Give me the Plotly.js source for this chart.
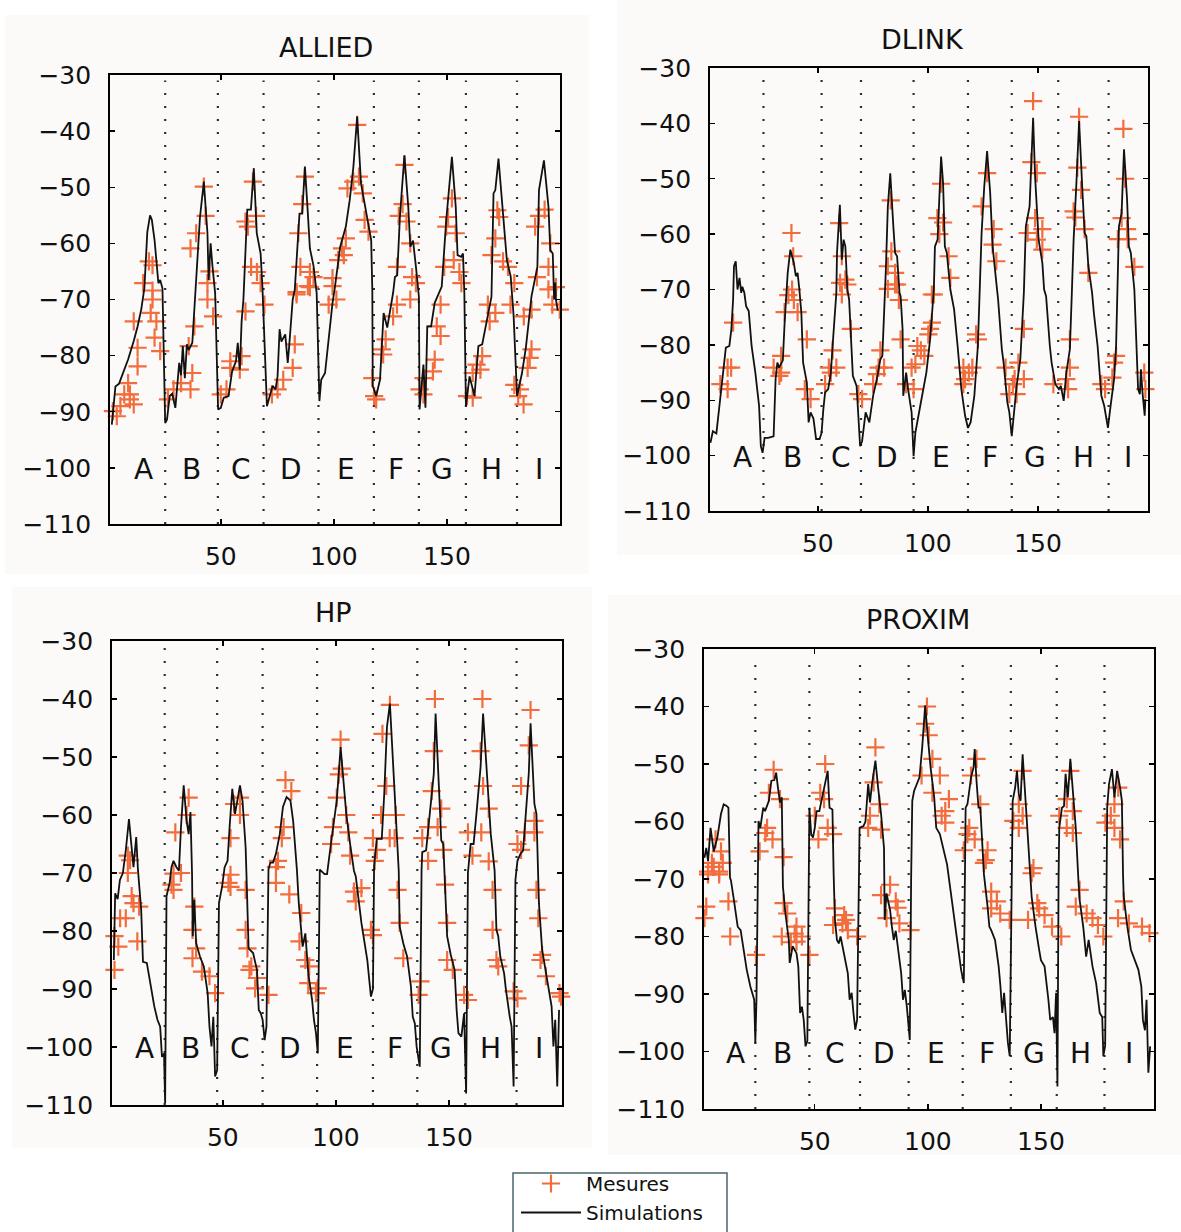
<!DOCTYPE html>
<html><head><meta charset="utf-8">
<script src="https://cdn.plot.ly/plotly-3.0.1.min.js"></script>
<style>html,body{margin:0;padding:0;background:#fff}</style>
</head><body><div id="chart" style="width:1181px;height:1232px"></div>
<script>
// ---------------- DATA ----------------
const segLetters = ['A','B','C','D','E','F','G','H','I'];
const xTicks = [50, 100, 150];
const yTicks = [-110, -100, -90, -80, -70, -60, -50, -40, -30];

// segment boundaries (dotted lines), x units
const alliedBounds = [25.4, 48.7, 68.9, 93.2, 117.7, 137.6, 158.4, 181];
const dlinkBounds  = [25.3, 51.7, 69.6, 93.5, 118.2, 138.1, 159.2, 182.1];
const hpBounds     = [24.3, 47.5, 67.6, 91.7, 116.4, 136, 157.2, 179.9];
const proximBounds = [23.7, 47.6, 70, 91.5, 115.4, 136.7, 157, 178.1];

// Simulations [x, dB]
const alliedSim = [[1.8,-92.3],[3.4,-85.5],[5,-85],[9,-80.7],[11.5,-77.4],[13.2,-74.8],[14.8,-71.8],[16.2,-68],[17.5,-58],[18.7,-55],[19.5,-55.8],[20.7,-59.4],[22.4,-67.1],[23.2,-66.5],[24.2,-68],[25.4,-92],[26.2,-91.4],[27.4,-87.2],[28.5,-86.8],[29.9,-89.3],[31.6,-81.3],[32.4,-83.5],[33.2,-78.3],[34.1,-84],[35,-78],[35.8,-79],[37.4,-77.7],[38.3,-71.2],[39.1,-66.4],[40,-60.6],[40.8,-55.3],[42.5,-49],[44.1,-58.2],[44.6,-66.5],[45.5,-60],[46.3,-64],[47.5,-68.9],[48.8,-89.6],[50,-89.3],[51.3,-87.5],[53.4,-87.2],[55,-82.8],[56.7,-81],[57.5,-77.7],[58.4,-82.5],[59.2,-73.9],[60,-70],[61.7,-54],[63.3,-54],[64.6,-46.6],[65.9,-58.2],[67.6,-61.8],[68.4,-67.7],[70.4,-89],[71.8,-87.2],[72.9,-85.4],[74.2,-86],[75.1,-83.7],[76,-75.3],[76.8,-77.5],[78.5,-76.2],[79.6,-81.3],[80.2,-78.5],[81.8,-70],[82.7,-68.3],[84.8,-54.7],[86,-54.7],[87.2,-46.3],[88.5,-54.7],[89.4,-60.9],[91,-64],[92.4,-68.9],[93.6,-88.1],[94.4,-84.3],[96.1,-83.1],[97.7,-76.5],[99.4,-70.6],[100.3,-68.3],[102.8,-60.6],[105.3,-57],[107,-52.3],[108.6,-46.5],[110.3,-37.4],[112,-49.3],[113.6,-53],[115.3,-57],[116.5,-59.4],[117,-68.3],[117.2,-85.4],[118.7,-87.2],[120.4,-84.3],[122,-72.4],[123.6,-75],[126.2,-68.8],[127,-66],[128,-65.7],[129.2,-55.3],[131.2,-44.3],[132.9,-53.5],[133.8,-60.6],[135,-59.5],[136.3,-64.2],[137.6,-69.5],[137.9,-89.6],[139.6,-81.6],[140.5,-89.3],[141.3,-74.8],[143,-74.8],[144.6,-70.6],[147.7,-67.7],[149.7,-55.8],[152.2,-44.6],[153.9,-53.5],[154.7,-62.1],[156.3,-62.4],[157.1,-61.8],[157.7,-68.9],[158.4,-89],[160,-83.7],[162.2,-87.2],[163.9,-78.3],[165.6,-78],[168.1,-72.4],[169.7,-69.5],[170.6,-51.1],[171.4,-50.5],[172.8,-44.9],[174.8,-54.7],[176.5,-63],[178.2,-65.9],[179,-70],[179.5,-73],[181,-87.2],[183.2,-83.1],[184.9,-78.6],[187.4,-69.4],[190,-64.2],[190.7,-50.5],[192.9,-45.2],[194.9,-53.5],[195.7,-61.2],[196.8,-61.8],[197.4,-70],[197.9,-67],[198.2,-70],[199,-72]];

const dlinkSim = [[1.2,-97.7],[2.3,-95.6],[3.9,-96],[5.2,-91.6],[6.5,-86.2],[8.2,-80.5],[9.8,-80.2],[10.7,-77.2],[11.5,-71.8],[11.9,-65.8],[12.7,-64.9],[13.5,-70],[14.4,-67.9],[15.2,-70.6],[15.7,-69.5],[16.6,-70.6],[17.4,-73],[18.6,-73.9],[19.9,-80.2],[21.6,-85],[23.3,-91],[24.1,-98.3],[24.9,-99.5],[25.8,-96.8],[27.4,-96.8],[29.9,-96.5],[30.8,-86.2],[31.6,-83.2],[32.4,-84.1],[34.1,-82.8],[34.9,-76],[35.8,-69.4],[36.3,-67],[37.5,-62.8],[39.1,-65.2],[40,-67.6],[40.8,-67],[41.6,-70],[42.5,-74.2],[43.3,-83.2],[45,-86.8],[45.8,-94],[46.7,-92.2],[48,-93.3],[49.2,-97],[50.8,-97],[51.7,-95.9],[52.5,-91.6],[53.3,-88.6],[54.7,-88],[55.9,-85],[56.7,-80.2],[57.5,-75.4],[58.4,-70.6],[58.7,-63.4],[60,-54.7],[60.9,-64.6],[61.7,-61],[62.5,-62.2],[63.4,-70],[64.2,-71.8],[65.9,-85.6],[67.6,-87.4],[69.2,-98.3],[70.1,-97.4],[71.7,-92.2],[73.4,-94],[75.1,-89.2],[76.8,-86.2],[78.4,-82.6],[79.3,-82],[80.1,-75.4],[80.9,-66.4],[81.8,-55],[82.9,-49],[84.3,-58.6],[85.1,-63.4],[86,-64],[87.1,-70.6],[87.6,-71.2],[88.5,-77.2],[88.8,-89.2],[90.1,-85],[91,-88],[92.6,-92.2],[93.5,-100.1],[94.3,-95.9],[96.8,-90.4],[99.3,-85],[101,-79],[102.7,-70],[103.2,-62.2],[104.4,-61],[106,-46],[106.9,-50.8],[107.7,-62.2],[108.6,-63.4],[110.2,-70],[111.9,-73.6],[113.5,-80.2],[115.2,-88],[116.9,-92.8],[118.2,-95],[119.4,-94],[121.1,-89.2],[122.7,-80.2],[123.6,-70.6],[124.4,-59.8],[125.6,-51.4],[126.9,-45],[128.3,-52.6],[129.4,-62.2],[131.1,-68.8],[131.9,-71.8],[133.6,-80.8],[134.4,-83.2],[136.1,-90.4],[137,-92.2],[138.1,-96.5],[139.5,-91],[140.3,-87.4],[142,-82.6],[143.6,-70.6],[144.5,-58.6],[146.2,-55],[147.8,-39],[148.7,-49.6],[150.3,-61],[152,-65.2],[152.8,-70],[153.7,-71.2],[155.4,-80.2],[156.2,-83.2],[157.9,-87.1],[159.5,-88],[160.4,-87.4],[161.7,-90.1],[162.9,-85],[164.5,-80.8],[165.4,-70.6],[166.2,-61],[167.4,-51.4],[168.7,-39.6],[170.1,-51.4],[171.2,-59.8],[172,-60.4],[172.9,-65.8],[174.6,-70.6],[175.4,-74.2],[177.1,-80.2],[178,-84.4],[178.8,-89.2],[180.1,-91],[181.8,-95],[183,-91],[184.6,-86.2],[185.5,-80.2],[186.3,-69.4],[186.8,-58.6],[188,-56.2],[189.1,-44.7],[190.5,-53.8],[191.3,-62.2],[192.2,-63.4],[193.8,-70],[194.6,-78.4],[195.5,-88],[196.3,-88.9],[196.8,-84.4],[197.5,-88.6],[198.5,-92.8],[198.8,-89.8]];

const hpSim = [[1.8,-85],[2.4,-73.5],[3.5,-74.5],[4.5,-71.2],[5.8,-70],[7.1,-66.1],[8.5,-60.7],[9.7,-65.6],[10.5,-69],[11.7,-63.8],[12.5,-69.6],[13.9,-76.3],[14.7,-85.3],[16.4,-85.5],[18.1,-89.6],[19.7,-93],[21.1,-95.3],[22.3,-96.5],[23.1,-101.7],[24,-101.1],[24.5,-109.7],[25.1,-74],[26.5,-71.7],[27.3,-69],[28.2,-67.9],[29.5,-69],[30.6,-69.6],[31.5,-62.1],[32.7,-54.9],[34,-61],[34.9,-63.3],[35.7,-59.5],[36.4,-70.2],[36.7,-80.9],[37.4,-74.6],[38.2,-82.1],[39.9,-84.4],[41.6,-86.1],[43.3,-90.7],[44.1,-96.5],[45,-99.9],[45.8,-94.8],[46.6,-105.1],[47.5,-104],[48.3,-75.2],[49.7,-72.3],[50.8,-69],[52.1,-67.9],[53,-62.1],[54.2,-55.5],[55.4,-59.8],[57.6,-54.9],[58.7,-57.5],[60.1,-65.6],[60.6,-72],[61.4,-83],[63.4,-83.8],[65.1,-86.7],[65.9,-93.6],[66.8,-94.2],[67.6,-95.3],[68.5,-98.8],[69.3,-96.5],[70.2,-69.4],[71,-68.2],[72.2,-68.2],[73.5,-66.7],[75.2,-63.3],[76.6,-58.6],[78.2,-56.9],[79.9,-57.5],[81.1,-61],[82.8,-69.6],[83.6,-75.2],[85.3,-82.7],[86.5,-80.4],[87.8,-87.3],[89.5,-91.9],[90.3,-95.3],[91.2,-97.6],[92,-101.1],[92.9,-69.4],[95,-70.2],[96.1,-70.2],[97.9,-64.7],[99.6,-59.8],[100.4,-57.5],[102.1,-48.3],[103.4,-54],[104.6,-59.8],[106.3,-65],[108,-69.6],[108.8,-70.6],[111.3,-78.6],[113.9,-85],[115.5,-91.3],[116.4,-90],[116.9,-68.8],[118.1,-64.1],[120.3,-64.1],[121.4,-56.3],[122.6,-44.8],[123.9,-40.8],[124.8,-47.1],[126.5,-59.8],[127.8,-69.6],[128.2,-79.2],[129.8,-82.1],[131.5,-84.4],[133.2,-89.6],[134,-94.8],[134.9,-95.9],[135.7,-99.9],[137.1,-103.4],[137.9,-69.4],[138.2,-66.4],[139.9,-66.1],[141.6,-59.8],[143.3,-52.9],[144.1,-42.5],[145,-49.4],[146.1,-59.8],[146.6,-64.4],[147.5,-65],[148,-69.6],[148.3,-73.5],[149.2,-80.9],[150.8,-84.1],[152.5,-86.7],[153.4,-93.6],[154.2,-97.6],[155.5,-98.2],[156.7,-94.2],[157.6,-108],[158.4,-70],[159.6,-65],[160.9,-65],[162.3,-59.2],[164,-51.7],[165.1,-42.5],[166.3,-49.4],[167.3,-56.3],[168.5,-63.3],[170.2,-69.6],[171,-79.8],[171.8,-80.9],[172.7,-84.4],[174.4,-87.3],[175.2,-90.1],[176.9,-94.8],[177.7,-96.5],[178.6,-106.8],[179.4,-71.2],[180.3,-67.9],[181.6,-66.7],[182.8,-66.1],[184.1,-59.8],[185.3,-52.9],[186.1,-44.2],[187,-51.7],[187.8,-58.1],[188.7,-59.8],[189.4,-69.6],[189.8,-75.2],[191.2,-83.2],[192.9,-87.3],[194.5,-91.3],[195.4,-93],[196.2,-99.9],[197,-95.3],[197.9,-106.8],[198.7,-93.6]];

const proximSim = [[1.2,-66.3],[2,-64.6],[2.8,-66.9],[3.9,-61.1],[5.3,-65.2],[6.9,-62.8],[8.5,-58.7],[9.7,-57],[11,-57.3],[11.8,-57.6],[12.5,-69.8],[12.9,-70.2],[14.2,-73.6],[15.9,-78.3],[17.2,-78.9],[18.3,-81.7],[19.9,-85.8],[21.5,-88.7],[22.4,-89.8],[23.2,-91],[23.7,-98.5],[24.2,-91],[25.1,-59.9],[25.9,-61.1],[27.2,-57.6],[28,-58.2],[29.7,-56.4],[30.8,-52.9],[32.1,-52.8],[32.9,-51.5],[33.7,-54.1],[34.6,-56.7],[35.4,-55.8],[35.7,-69.6],[35.9,-71.3],[37,-76],[37.8,-78.3],[38.5,-80.6],[38.9,-84.6],[40.2,-81.7],[41.9,-82.9],[42.7,-85.2],[43.5,-93.3],[44.3,-92.2],[45.1,-94.5],[45.9,-99.1],[46.7,-98.2],[47.2,-66.7],[47.6,-57.6],[48.4,-62.2],[49.2,-62.8],[50,-61.1],[50.8,-58.2],[52,-58.2],[53.3,-55.8],[54.6,-53.2],[55.7,-51.2],[56.5,-57.6],[57.8,-57.9],[58.3,-68.7],[58.9,-77.1],[59.8,-80.6],[60.6,-81.2],[61.4,-80],[63,-82.9],[64.6,-86.4],[65.4,-91],[66.3,-89.8],[67.1,-93.3],[67.9,-96.2],[68.7,-94.5],[69.5,-66.7],[69.8,-61.1],[71.5,-60.8],[72.4,-60],[73.6,-53.5],[74.4,-56.7],[75.2,-53.8],[76.8,-49.4],[78,-54.1],[79.3,-58.7],[80.6,-64.6],[80.9,-77.1],[81.7,-72.5],[82.5,-74],[83.3,-75.4],[84.1,-78.3],[84.9,-80.6],[85.8,-79],[86.6,-81.7],[88.2,-86.4],[89,-91],[89.8,-89.3],[90.7,-92.2],[92,-98],[92.6,-69.8],[93.1,-56.4],[93.9,-54.7],[95.2,-53.5],[96.3,-52.3],[97.5,-47.1],[98.8,-39.8],[100.1,-45.9],[101.2,-50.6],[102.8,-55.8],[103.7,-61.1],[105.3,-62.2],[106.9,-64.6],[108.5,-67.5],[110.2,-72.5],[111.8,-77.1],[113.4,-81.7],[114.7,-85.8],[115.9,-88.1],[116.3,-70],[116.7,-57.6],[117.5,-57],[119.1,-52.3],[120.2,-50.6],[120.7,-47.4],[121.5,-52.9],[122.4,-57.6],[123.2,-57.6],[124,-63.4],[124.8,-69.2],[126.4,-74.8],[127.2,-78.3],[128,-78.9],[129.7,-80.6],[130.5,-82.9],[131.3,-85.2],[132.1,-88.7],[132.9,-93.3],[133.7,-89.8],[134.6,-94.5],[135.4,-98.5],[136.2,-100.8],[136.9,-70],[137.5,-56.4],[138.6,-54.1],[139.4,-51.2],[140.2,-55.2],[141,-56.4],[141.9,-48.3],[142.7,-52.9],[143.5,-58.7],[145.1,-67.5],[145.9,-73.1],[147.6,-78.3],[148.4,-80.6],[149.2,-82.3],[150,-84.1],[151.6,-85.2],[153.3,-91],[154.1,-94.5],[155.3,-94],[156,-96.8],[156.7,-89.8],[157.3,-106.1],[157.8,-70],[158.1,-61.1],[159.3,-57.6],[160.2,-57.3],[160.9,-51.7],[161.9,-55.8],[163,-49.1],[164.1,-54.1],[165.4,-61.1],[166.6,-70.4],[167.1,-73.6],[168.7,-78.3],[170,-83.5],[171.1,-80.6],[172.8,-85.2],[174.4,-88.1],[176,-93.3],[177.1,-94],[177.6,-100.8],[178.4,-99],[178.9,-70],[179.3,-57.6],[180.1,-53.5],[181.4,-50.9],[182.5,-55.8],[183.7,-51.2],[185,-54.1],[185.8,-56.4],[186.3,-69.2],[186.6,-73],[188.2,-78.3],[189.8,-82.3],[193.1,-85.8],[194.4,-88.7],[195.1,-94.5],[196,-96.3],[196.7,-91],[197.5,-103.7],[198.3,-99.1]];

// Mesures [x, dB]
const alliedMes = [[18.2,-63.2],[19.8,-63.9],[15.7,-67.1],[19.8,-68.4],[19.8,-70],[11.5,-73.9],[21.5,-73.9],[19,-72.4],[20.7,-76.8],[13.2,-78.6],[23.2,-79.2],[13.2,-81.9],[9,-84.9],[7.3,-86.9],[9.8,-87.8],[5.6,-89],[2.3,-89.9],[4,-90.8],[11.5,-88.7],[9.8,-86.9],
[42.5,-49.9],[43.3,-55.1],[39.1,-58.2],[36.6,-60.9],[45,-65],[44.1,-67.1],[44.1,-70],[46.6,-73],[38.3,-74.8],[35.8,-78.3],[37.4,-83.1],[32.4,-84.9],[36.6,-86],[29.1,-86],[26.6,-87.8],
[64.2,-49],[65.6,-55.1],[60.9,-56.1],[62,-57],[63.4,-64.2],[66,-65.1],[67.6,-67.1],[69.3,-70.9],[60.9,-72.1],[59.2,-80.1],[54.2,-81],[54.2,-82.2],[58.4,-82.5],[52.5,-86],[50,-86.9],
[87.2,-48.1],[86,-53],[84.3,-58.2],[85.2,-64.2],[89.4,-65.1],[91,-66],[83.5,-68.7],[89.4,-67.8],[88.5,-67.6],[83.5,-69.1],[82.7,-78],[81.8,-82.2],[77.6,-84.3],[75.1,-86],[72.6,-86.9],
[110.3,-38.9],[111.1,-48.1],[108.6,-49],[106,-50.2],[112.8,-51.1],[113.6,-55.8],[115.3,-57.9],[105.3,-59.1],[103.6,-60.9],[104.4,-62.1],[101.9,-63],[99.4,-66.2],[99.4,-67.6],[101.1,-70],[97.7,-70.9],
[131.2,-46],[130.4,-53],[128.7,-55.1],[132.1,-56.1],[133.8,-60],[127.9,-64.2],[134.6,-66],[136.3,-67.1],[133.8,-70],[127.9,-70.9],[126.2,-73],[122.9,-77.1],[121.2,-78.9],[121.8,-79.8],[117,-84],[117.8,-87.2],[118.7,-87.8],
[152.2,-52],[150.5,-55.3],[149.7,-57],[153.9,-58.2],[153,-63],[148.8,-64.2],[155.5,-65.1],[156.4,-67.1],[147.2,-70.9],[145.5,-74.8],[147.2,-76.5],[144.6,-80.7],[143.8,-82.8],[139.6,-84],[137.9,-86],[139.6,-86.9],
[172.3,-54.1],[173.1,-55.3],[171.4,-59.1],[169.7,-62.1],[174.8,-63.2],[177,-64.2],[179.8,-67.1],[168.1,-70.9],[178.1,-70.9],[171.4,-72.4],[168.9,-73.9],[165.6,-80.1],[163.1,-81.6],[164.8,-82.5],[161.4,-83.1],[158.9,-87.2],[161.4,-87.5],
[193.2,-54],[190.7,-55.1],[189,-57],[195.7,-60],[194.9,-64.2],[189.8,-66],[198.2,-67.8],[194.9,-68.2],[196.6,-70.9],[199.9,-71.8],[187.4,-71.8],[184,-73],[187.4,-78.9],[186.6,-80.4],[185.7,-82.2],[179.8,-85.2],[182.3,-86],[181.5,-87.2],[183.9,-88.7]];

const dlinkMes = [[38,-59.8],[38.8,-64],[59.7,-58],[60.9,-64],[62.5,-68.2],[63.4,-69.1],[83.1,-53.9],[83.4,-63.1],[81.8,-65.8],[85.1,-67],[86,-69.1],[106,-50.9],[104.3,-57.1],[106.9,-57.9],[105.2,-60],[109.4,-64],[110.2,-67.9],[101.8,-70.9],[126.9,-49],[124.4,-55],[129.9,-59.1],[129.4,-61.9],[131.1,-64.9],[147.8,-36],[147,-47],[149.5,-49],[148.7,-57.1],[145.3,-59.8],[152,-59.1],[149.5,-61],[152,-62.8],[168.7,-38.8],[167.9,-48],[169.6,-52],[166.2,-55.9],[167,-57],[171.2,-59.1],[172.9,-67],[188.8,-41],[189.6,-50],[188,-57.1],[190.5,-59.1],[186.3,-60.9],[190.8,-60.9],[193.8,-65.9],
[11.5,-76],[9,-84.1],[10.6,-84.1],[5.7,-87.1],[9,-88],[38.3,-70],[36.6,-71],[39.1,-71.9],[34.9,-74.1],[40.8,-74.1],[45,-79],[33.3,-82],[29.9,-84.1],[33.3,-85],[32.5,-85.6],[44.1,-88],[46.7,-89.8],[60.9,-70.9],[60.1,-68.8],[65,-77.1],[56.7,-81],[55,-84.1],[58.4,-84.1],[55.9,-85],[53.3,-87.1],[68.4,-88.9],[70.1,-89.8],[81.8,-69.9],[85.1,-69.1],[86.8,-71.9],[78.4,-81],[77.6,-84.1],[80.1,-84.1],[76.8,-85.3],[75.1,-87.1],[87.6,-79],[102.7,-70.9],[101.8,-76],[101,-77.1],[100.2,-78.1],[95.2,-80.2],[96.8,-81],[98.4,-82],[94.3,-83.5],[92.6,-84.1],[90.1,-87.1],[93.5,-88],[121.9,-78.1],[122.7,-79],[116.1,-84.1],[120.2,-84.1],[118.6,-85],[116.9,-86.2],[116.1,-87.1],[143.6,-77.1],[141.1,-83.2],[135.3,-84.1],[143.6,-86.2],[139.4,-86.2],[138.6,-87.1],[137,-88.9],[140.3,-88.9],[164.5,-79],[164.5,-84.1],[162.9,-86.2],[157,-87.1],[163.7,-88],[185.5,-82],[184.6,-83.2],[183.8,-85.9],[178.8,-87.1],[180.5,-88],[198.3,-85],[198.8,-88]];

const hpMes = [[8,-67],[9,-67.8],[34.9,-57],[34,-60],[29,-63],[28.2,-70.1],[57.6,-57],[55,-58.1],[57.6,-60],[53.4,-64],[77.7,-54],[80.3,-55.9],[76.9,-62.1],[76.1,-64],[74.4,-67.9],[73.5,-69],[102.1,-47],[102.6,-52],[101.3,-53],[100.4,-57],[104.6,-60],[98.7,-62.1],[105.5,-63],[97.9,-65],[106.3,-67],[123.9,-41],[120.6,-46],[122.3,-55],[120,-60],[126.5,-60],[116.4,-64],[123.8,-64],[126,-64],[118.1,-66],[117.2,-67.9],[143.8,-40],[143.3,-49],[142.4,-55.9],[146.6,-58.9],[140.8,-62.1],[145,-62.1],[138.2,-64],[147.5,-66],[140.8,-67.9],[164.8,-40],[164,-49],[165.1,-55],[167.6,-58.9],[158.4,-63],[164.3,-63],[160.4,-67],[167.6,-68],[186.1,-41.9],[185.3,-48],[181.9,-55],[187.8,-61],[183.6,-63],[187.8,-63],[180.3,-65],[181.9,-66],
[8,-70],[9.7,-74],[10.5,-75.2],[4.6,-77.8],[7.1,-77.8],[13,-75.8],[2.1,-80.9],[3.8,-82.7],[12.2,-81.8],[2.1,-86.7],[31.5,-70],[27.3,-72],[28.2,-72.9],[37.4,-75.8],[36.6,-79.8],[38.2,-83],[36.6,-84.7],[40.8,-87],[44.1,-87.8],[46.6,-90.7],[53.4,-70.3],[52.5,-71.7],[53.4,-72.4],[60.1,-72.9],[60.1,-79.8],[60.9,-83],[62.6,-86.1],[61.8,-86.7],[65.1,-88.1],[64.3,-89.9],[70.2,-91],[73.5,-71.7],[79.4,-73.7],[84.7,-76.9],[83.9,-81.8],[86.5,-85],[88.2,-86.1],[87.8,-89],[92,-89.9],[91.2,-90.7],[111.3,-72.6],[108,-73.2],[108.8,-74.9],[115.5,-79.8],[116.4,-80.7],[127.3,-72.9],[128.2,-78.6],[129.8,-84.7],[137.4,-88.7],[136.6,-91],[148.3,-72],[149.2,-78.6],[149.2,-85],[151.7,-86.7],[156.7,-91],[158.4,-91.9],[169.3,-72.9],[169.3,-79.8],[171,-85],[171.8,-86.1],[178.6,-90.4],[180.3,-91.6],[188.7,-72.9],[189.5,-77.8],[191.2,-84.1],[190.5,-85],[192.9,-87.8],[199.6,-91.3],[198.9,-90.7]];

const proximMes = [[6.1,-63.1],[8.5,-65.2],[4.5,-67.2],[9.3,-67.2],[2.8,-69.2],[7.7,-69.2],[31.8,-51],[29.7,-55],[34.6,-56.1],[28.9,-61.1],[28.1,-62],[31.3,-63.1],[25.6,-65.2],[36.2,-66.2],[54.6,-50],[52.4,-55],[54.1,-56.1],[50,-59],[55.7,-61.1],[58.1,-62.2],[51.6,-63.1],[76.8,-47.1],[76,-53.2],[78.5,-57],[74.4,-59],[73.6,-61.1],[79.3,-61.4],[99.6,-40],[98.8,-43],[100.4,-45],[102,-49.1],[97.2,-52],[105.3,-52],[102,-55],[109.3,-56.1],[107.7,-58.2],[106.1,-59],[107.7,-60.2],[121.5,-49.1],[119.1,-52],[123.2,-57],[118.3,-61.1],[117.5,-62.2],[120.7,-63.1],[115.9,-65],[126.4,-65],[124.8,-67.2],[141.9,-51.2],[140.2,-57],[141.9,-59],[137.8,-59.9],[140.2,-61.1],[146.7,-68.1],[145.9,-69],[163,-51.2],[161.4,-56.1],[164.1,-58.2],[158.1,-59],[161.4,-61.1],[164.1,-62],[184.2,-54.1],[182.5,-57],[180.9,-59],[178.5,-60.2],[182.5,-61.1],[185,-63.1],
[5.3,-67.9],[2.8,-68.7],[7.7,-68.7],[2,-74.8],[11.8,-73.9],[1.2,-76.8],[12.6,-80],[24,-83.2],[36.2,-74.2],[37.8,-76],[41.9,-78.3],[35.4,-80],[41.1,-79.5],[41.9,-80.9],[44.3,-80],[47.6,-83.2],[39.4,-81],[58.9,-75.1],[63,-76.3],[63.8,-77.1],[58.1,-78],[62.2,-77.7],[64.6,-78.9],[68.7,-80],[83.3,-71],[79.3,-72.8],[85.8,-73.9],[86.6,-75],[81.7,-76.8],[87.4,-77.7],[92.3,-78.9],[125.6,-66.7],[128,-72.2],[130.5,-73.9],[128,-75.1],[132,-76],[136.2,-77.1],[148.4,-74.2],[149.2,-75.1],[144.3,-77.1],[151.6,-76.3],[154.9,-78.3],[159,-80],[167.1,-71.9],[165.4,-74.8],[170.2,-76],[172.8,-76.8],[175.2,-78],[177.6,-80],[186.6,-73.9],[184.1,-76.8],[188.9,-77.7],[194.7,-78.3],[198,-79.4]];

// ---------------- LAYOUT ----------------
const W = 1181, H = 1232;
const FONT = 'DejaVu Sans, Verdana, sans-serif';
const ORANGE = '#f26d3d';
const panels = [
  {title:'ALLIED', sim:alliedSim, mes:alliedMes, bounds:alliedBounds, box:[110,560,75,524], tpos:[326,47], bg:[5,15,589,574]},
  {title:'DLINK',  sim:dlinkSim,  mes:dlinkMes,  bounds:dlinkBounds,  box:[710,1148,68,511], tpos:[922,40], bg:[617,0,1181,555]},
  {title:'HP',     sim:hpSim,     mes:hpMes,     bounds:hpBounds,     box:[112,562,641,1105], tpos:[333,612], bg:[12,587,592,1148]},
  {title:'PROXIM', sim:proximSim, mes:proximMes, bounds:proximBounds, box:[704,1154,649,1109], tpos:[918,619], bg:[608,595,1181,1155]}
];

const traces = [], shapes = [], annotations = [];
const layout = {
  width: W, height: H, margin:{l:0,r:0,t:0,b:0},
  paper_bgcolor:'#ffffff', plot_bgcolor:'rgba(0,0,0,0)',
  showlegend:true,
  legend:{x:516/W, y:0, xanchor:'left', yanchor:'bottom', bgcolor:'rgba(255,255,255,0)',
          borderwidth:0, font:{family:FONT, size:20, color:'#111'},
          itemwidth:60, tracegroupgap:0},
  font:{family:FONT, color:'#111'}
};

panels.forEach((p, i) => {
  const n = i === 0 ? '' : String(i + 1);
  const xa = 'xaxis' + n, ya = 'yaxis' + n, xr = 'x' + n, yr = 'y' + n;
  const [l, r, t, b] = p.box;
  const common = {showline:true, linecolor:'#000', linewidth:1.8, mirror:'ticks', ticks:'inside',
                  ticklen:5, tickwidth:1.4, tickcolor:'#000', showgrid:false, zeroline:false,
                  tickfont:{family:FONT, size:25, color:'#111'}, fixedrange:true};
  layout[xa] = Object.assign({}, common, {domain:[l/W, r/W], range:[1,200], tickvals:xTicks,
                  ticktext:xTicks.map(String), anchor:yr, ticklabelstandoff:9});
  layout[ya] = Object.assign({}, common, {domain:[1-b/H, 1-t/H], range:[-110,-30], tickvals:yTicks,
                  anchor:xr, ticklabelstandoff:12});
  // panel background
  const [bx0, by0, bx1, by1] = p.bg;
  shapes.push({type:'rect', xref:'paper', yref:'paper', x0:bx0/W, x1:bx1/W, y0:1-by1/H, y1:1-by0/H,
               fillcolor:'#fbfaf8', line:{width:0}, layer:'below'});
  // dotted separators
  p.bounds.forEach(bx => shapes.push({type:'line', xref:xr, yref:yr, x0:bx, x1:bx, y0:-110, y1:-31,
               line:{color:'#22323a', width:2.2, dash:'2px,11px'}, layer:'below'}));
  // segment letters
  const edges = [6].concat(p.bounds, [200]);
  segLetters.forEach((s, k) => annotations.push({xref:xr, yref:yr, x:(edges[k]+edges[k+1])/2, y:-100.3,
               text:s, showarrow:false, font:{family:FONT, size:28, color:'#111'}}));
  // title
  annotations.push({xref:'paper', yref:'paper', x:p.tpos[0]/W, y:1-p.tpos[1]/H, text:p.title,
               showarrow:false, font:{family:FONT, size:27, color:'#111'}, xanchor:'center', yanchor:'middle'});
  traces.push({type:'scatter', mode:'markers', name:'Mesures', xaxis:xr, yaxis:yr,
               x:p.mes.map(d=>d[0]), y:p.mes.map(d=>d[1]), showlegend:i===0, legendrank:1,
               cliponaxis:false,
               marker:{symbol:'cross-thin', size:13, color:ORANGE, line:{color:ORANGE, width:2.2}}});
  traces.push({type:'scatter', mode:'lines', name:'Simulations', xaxis:xr, yaxis:yr,
               x:p.sim.map(d=>d[0]), y:p.sim.map(d=>d[1]), showlegend:i===0, legendrank:2,
               line:{color:'#111', width:1.8}});
});
// legend frame (open at the bottom edge of the page, as in the original)
shapes.push({type:'rect', xref:'paper', yref:'paper', x0:513/W, x1:727/W, y0:-0.02, y1:1-1173/H,
             line:{color:'#4a6670', width:1.5}, fillcolor:'rgba(0,0,0,0)'});
layout.shapes = shapes;
layout.annotations = annotations;
Plotly.newPlot('chart', traces, layout, {staticPlot:true, displayModeBar:false});
</script></body></html>
